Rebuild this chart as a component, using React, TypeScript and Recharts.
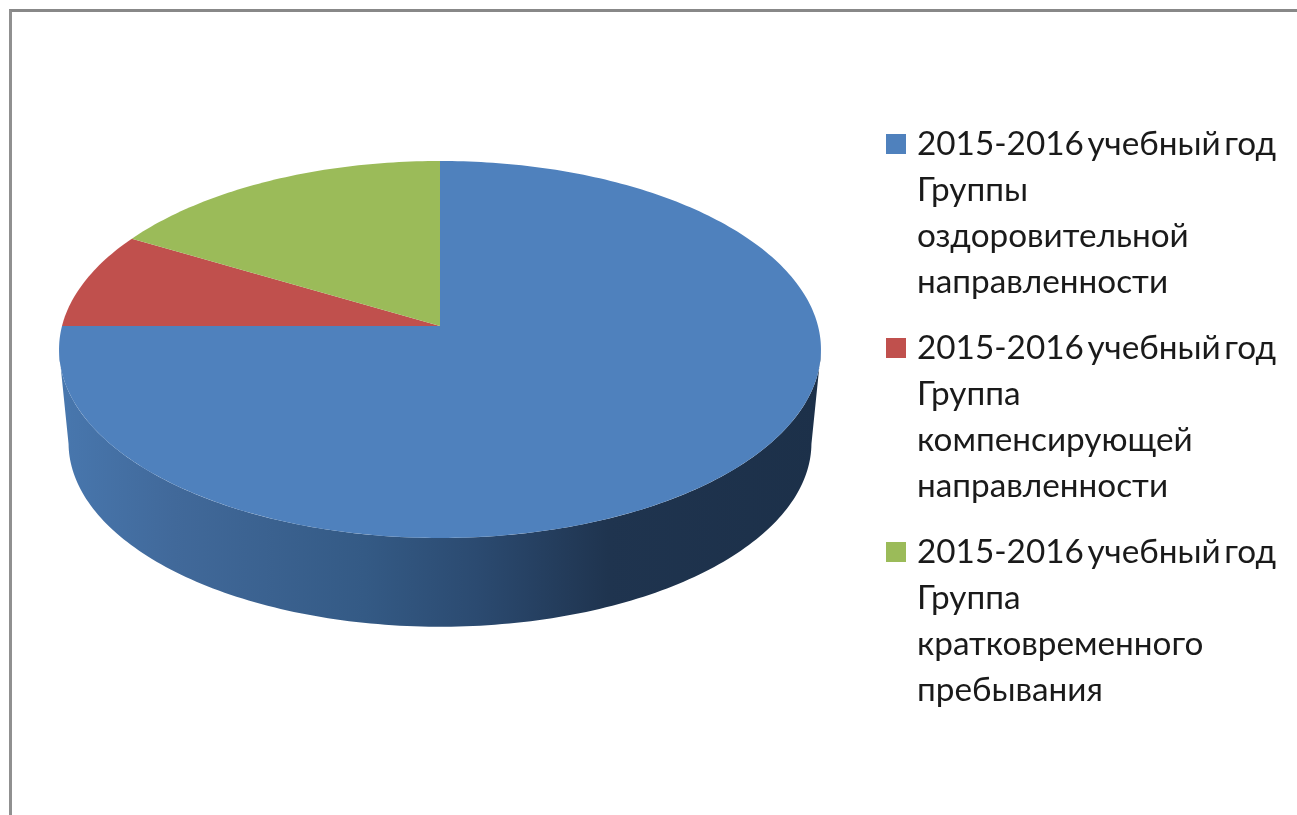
import { Legend, Pie, PieChart } from "recharts"

const categories = [
    "2015-2016 учебный год Группы оздоровительной направленности",
    "2015-2016 учебный год Группа компенсирующей направленности",
    "2015-2016 учебный год Группа кратковременного пребывания",
]
const legendLines = [
    ["2015-2016 учебный год", "Группы", "оздоровительной", "направленности"],
    ["2015-2016 учебный год", "Группа", "компенсирующей", "направленности"],
    ["2015-2016 учебный год", "Группа", "кратковременного", "пребывания"],
]
const values = [9, 1, 2]
const colors = ["#4f81bd", "#c0504d", "#9bbb59"]

const data = categories.map((name, i) => ({ name, value: values[i], fill: colors[i] }))

// perspective of the tilted disc
const TILT = 0.491
const SKEW = 0.1246
const FRONT_START = -7.5
const FRONT_END = -172.5
// lower disc of the extrusion, relative to the top one
const DEPTH_Y = 94
const DEPTH_SCALE = 0.975

function project(cx: number, cy: number, r: number, deg: number) {
    const rad = (deg * Math.PI) / 180
    const u = Math.cos(rad)
    const v = Math.sin(rad)
    const w = 1 + SKEW * v
    return { x: cx + (r * u) / w, y: cy - (r * TILT * v) / w }
}

function sweep(from: number, to: number) {
    const steps = Math.max(2, Math.ceil(Math.abs(to - from)))
    const out: number[] = []
    for (let i = 0; i <= steps; i++) out.push(from + ((to - from) * i) / steps)
    return out
}

function toPath(points: { x: number; y: number }[]) {
    return points.map((p, i) => `${i === 0 ? "M" : "L"}${p.x.toFixed(2)} ${p.y.toFixed(2)}`).join(" ") + " Z"
}

function TopSlice(props: any) {
    const { cx, cy, outerRadius, startAngle, endAngle, fill } = props
    const rim = sweep(startAngle, endAngle).map((a) => project(cx, cy, outerRadius, a))
    return <path d={toPath([{ x: cx, y: cy }, ...rim])} fill={fill} stroke="none" />
}

function WallSlice(props: any) {
    const { cx, cy, outerRadius, startAngle, endAngle } = props
    const from = Math.min(startAngle, FRONT_START)
    const to = Math.max(endAngle, FRONT_END)
    if (from <= to) return <g />
    const angles = sweep(from, to)
    const upper = angles.map((a) => project(cx, cy, outerRadius, a))
    const lower = angles
        .map((a) => project(cx, cy + DEPTH_Y, outerRadius * DEPTH_SCALE, a))
        .reverse()
    return <path d={toPath([...upper, ...lower])} fill="url(#wallShade)" stroke="none" />
}

function LegendList() {
    return (
        <div>
            {categories.map((name, i) => (
                <div key={name} style={{ position: "relative", paddingLeft: 31, marginBottom: 20 }}>
                    <div
                        style={{
                            position: "absolute",
                            left: 0,
                            top: 13,
                            width: 20,
                            height: 20,
                            background: colors[i],
                        }}
                    />
                    {legendLines[i].map((line) => (
                        <div key={line} style={{ height: 46, lineHeight: "43px", whiteSpace: "nowrap" }}>
                            {line}
                        </div>
                    ))}
                </div>
            ))}
        </div>
    )
}

export default function App() {
    return (
        <div
            style={{
                position: "absolute",
                left: 0,
                top: 0,
                width: 1297,
                height: 815,
                background: "#fff",
                overflow: "hidden",
                filter: "blur(0.5px)",
            }}
        >
            <div
                style={{
                    position: "absolute",
                    left: 9,
                    top: 9,
                    width: 1400,
                    height: 1000,
                    borderTop: "3px solid #888888",
                    borderLeft: "3px solid #909090",
                }}
            />
            <PieChart
                width={1297}
                height={815}
                margin={{ top: 0, right: 0, bottom: 0, left: 0 }}
                style={{ position: "absolute", left: 0, top: 0 }}
            >
                <defs>
                    <linearGradient id="wallShade" gradientUnits="userSpaceOnUse" x1="60" y1="0" x2="821" y2="0">
                        <stop offset="0" stopColor="#4877ae" />
                        <stop offset="0.15" stopColor="#41699a" />
                        <stop offset="0.4" stopColor="#345a85" />
                        <stop offset="0.55" stopColor="#2b4a70" />
                        <stop offset="0.72" stopColor="#1f344f" />
                        <stop offset="1" stopColor="#1c3049" />
                    </linearGradient>
                </defs>
                <Pie
                    data={data}
                    dataKey="value"
                    nameKey="name"
                    cx={440}
                    cy={326}
                    outerRadius={378}
                    startAngle={90}
                    endAngle={-270}
                    legendType="none"
                    isAnimationActive={false}
                    shape={WallSlice}
                />
                <Pie
                    data={data}
                    dataKey="value"
                    nameKey="name"
                    cx={440}
                    cy={326}
                    outerRadius={378}
                    startAngle={90}
                    endAngle={-270}
                    isAnimationActive={false}
                    shape={TopSlice}
                />
                <Legend
                    layout="vertical"
                    align="right"
                    verticalAlign="top"
                    content={LegendList}
                    wrapperStyle={{
                        left: 886,
                        top: 121,
                        width: 405,
                        fontFamily: "Lato, 'Open Sans', sans-serif",
                        fontSize: 33.3,
                        wordSpacing: -5,
                        color: "#1a1a1a",
                    }}
                />
            </PieChart>
        </div>
    )
}
